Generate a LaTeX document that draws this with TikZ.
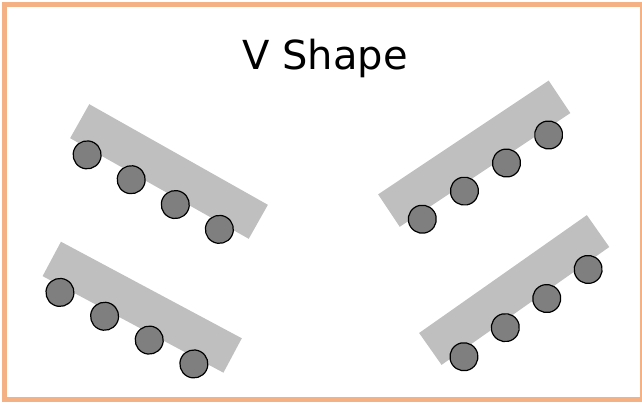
\documentclass[tikz,border=0pt]{standalone}
\usepackage{fontspec}
\setmainfont{DejaVu Sans}
\usetikzlibrary{positioning}
\definecolor{frameorange}{RGB}{244,177,131}
\definecolor{tablegray}{RGB}{191,191,191}
\definecolor{seatgray}{RGB}{127,127,127}

\begin{document}
\begin{tikzpicture}[x=1pt,y=1pt,
  desk/.style={fill=tablegray},
  seat/.style={fill=seatgray,draw=black,line width=1.2pt}]
  \useasboundingbox (0,0) rectangle (642,402);
  % Frame
  \draw[frameorange,line width=5pt] (4.5,2.5) rectangle (642,397.5);
  % Title
  \node[font=\fontsize{40}{48}\selectfont,anchor=base] (title) at (325,332) {V Shape};
  % Tables with seats
  \foreach \cx/\cy/\ang in {169/230.5/-29.4, 142.2/94.8/-28.1, 474.2/248.3/33.7, 514.2/112/35.1} {
    \begin{scope}[shift={(\cx,\cy)},rotate=\ang]
      \fill[desk] (-102.5,-19.5) rectangle (102.5,19.5);
      \foreach \i in {0,...,3}
        \draw[seat] (-79.5+50.6*\i,-25.7) circle (14);
    \end{scope}
  }
\end{tikzpicture}
\end{document}
